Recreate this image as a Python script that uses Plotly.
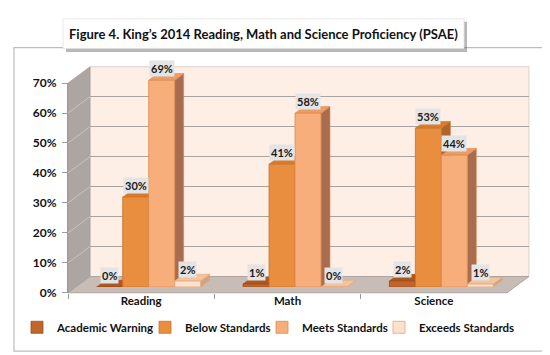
import plotly.graph_objects as go

# ---------------- data ----------------
categories = ["Reading", "Math", "Science"]
series_names = ["Academic Warning", "Below Standards", "Meets Standards", "Exceeds Standards"]
academic_warning = [0, 1, 2]
below_standards = [30, 41, 53]
meets_standards = [69, 58, 44]
exceeds_standards = [2, 0, 1]
y_tick_values = [0, 10, 20, 30, 40, 50, 60, 70]
y_tick_labels = ["0%", "10%", "20%", "30%", "40%", "50%", "60%", "70%"]
title_text = "Figure 4. King’s 2014 Reading, Math and Science Proficiency (PSAE)"

series_values = [academic_warning, below_standards, meets_standards, exceeds_standards]

# ---------------- styling ----------------
front_colors = ["#C0652B", "#E98E3E", "#F8AE7A", "#FCE1CD"]
top_colors = ["#AE5720", "#D97B2C", "#EE9C65", "#F2C3A0"]
side_colors = ["#8C4A22", "#B0652C", "#A96C4C", "#D6A27E"]
line_colors = ["#9C4E1E", "#C97328", "#DC8A50", "#E0A77E"]
FONT = "Lato"

W, H = 550, 355


def px(x):
    return x / W


def py(y):
    return 1 - y / H


# front plane (axis labels): left/right pixels, zero pixel, 70% pixel
F_L, F_R, F_Z, F_T = 60, 499, 289, 70
Y_MAX = 70
ppy = (F_Z - F_T) / Y_MAX            # px per percent
ppx = (F_R - F_L) / 3.0              # px per category
BAR_OFF = (7.5, -6)                  # bar plane offset
BACK_OFF = (22, -17)                 # back wall offset
DEPTH = (9, -7)                      # bar depth in px
Y2_MAX = 76

fig = go.Figure()

# invisible anchor traces for back and front planes
fig.add_trace(go.Scatter(x=categories, y=[None] * 3, xaxis="x", yaxis="y",
                         showlegend=False, hoverinfo="skip"))

# bars (bar plane)
for j, (name, vals) in enumerate(zip(series_names, series_values)):
    fig.add_trace(go.Bar(
        x=categories, y=vals, name=f"<b>{name}</b>", xaxis="x2", yaxis="y2",
        marker=dict(color=front_colors[j], line=dict(color=line_colors[j], width=0.8)),
        legend="legend" if j == 0 else f"legend{j + 1}",
        hoverinfo="skip",
    ))

fig.add_trace(go.Scatter(x=categories, y=[None] * 3, xaxis="x3", yaxis="y3",
                         showlegend=False, hoverinfo="skip"))

shapes = []
# outer frame
shapes.append(dict(type="rect", xref="paper", yref="paper", layer="below",
                   x0=px(6), x1=px(547), y0=py(350), y1=py(33),
                   line=dict(color="#BDBDBD", width=1.2), fillcolor="white"))
# title box shadow + box
shapes.append(dict(type="rect", xref="paper", yref="paper", layer="below",
                   x0=px(58), x1=px(459), y0=py(37.5), y1=py(6),
                   line=dict(width=0), fillcolor="rgba(0,0,0,0.28)"))
shapes.append(dict(type="rect", xref="paper", yref="paper", layer="below",
                   x0=px(55), x1=px(456), y0=py(34), y1=py(3),
                   line=dict(color="#E2E2E2", width=0.8), fillcolor="white"))

# back wall
bx0, bx1 = F_L + BACK_OFF[0], F_R + BACK_OFF[0]
bz, bt = F_Z + BACK_OFF[1], F_T + BACK_OFF[1]
shapes.append(dict(type="rect", xref="paper", yref="paper", layer="below",
                   x0=px(bx0), x1=px(bx1), y0=py(bz), y1=py(bt),
                   line=dict(color="#CFC8C4", width=0.8), fillcolor="#FDEEE6"))
# left wall
shapes.append(dict(type="path", xref="paper", yref="paper", layer="below",
                   path=f"M{px(F_L)},{py(F_Z)} L{px(F_L)},{py(F_T)} L{px(bx0)},{py(bt)} L{px(bx0)},{py(bz)} Z",
                   line=dict(color="#9F9792", width=0.6), fillcolor="#ADA5A1"))
# left wall gridlines
for v in y_tick_values[1:-1]:
    yf = F_Z - v * ppy
    yb = bz - v * ppy
    shapes.append(dict(type="line", xref="paper", yref="paper", layer="below",
                       x0=px(F_L), y0=py(yf), x1=px(bx0), y1=py(yb),
                       line=dict(color="#CBC4C0", width=1)))
# floor
shapes.append(dict(type="path", xref="paper", yref="paper", layer="below",
                   path=f"M{px(F_L)},{py(F_Z)} L{px(F_R)},{py(F_Z)} L{px(bx1)},{py(bz)} L{px(bx0)},{py(bz)} Z",
                   line=dict(color="#A39A95", width=0.8), fillcolor="#C7BCB6"))

# bar 3D faces (bar plane, computed from the data)
group_w = 0.71
bar_w = group_w / 4
dxu = DEPTH[0] / ppx
dyu = -DEPTH[1] / ppy
side_shapes, top_shapes = [], []
for j, vals in enumerate(series_values):
    for i, v in enumerate(vals):
        left = i - group_w / 2 + j * bar_w
        right = left + bar_w
        side_shapes.append(dict(
            type="path", xref="x2", yref="y2", layer="below",
            path=f"M{right},0 L{right + dxu},{dyu} L{right + dxu},{v + dyu} L{right},{v} Z",
            line=dict(color=line_colors[j], width=0.6), fillcolor=side_colors[j]))
        top_shapes.append(dict(
            type="path", xref="x2", yref="y2", layer="below",
            path=f"M{left},{v} L{right},{v} L{right + dxu},{v + dyu} L{left + dxu},{v + dyu} Z",
            line=dict(color=line_colors[j], width=0.6), fillcolor=top_colors[j]))
shapes += side_shapes + top_shapes

# data labels
annotations = []
for j, vals in enumerate(series_values):
    for i, v in enumerate(vals):
        center = i - group_w / 2 + (j + 0.5) * bar_w
        annotations.append(dict(
            x=center, y=v, xref="x2", yref="y2", text=f"<b>{v}%</b>",
            showarrow=False, yshift=12, xanchor="center", yanchor="middle",
            font=dict(family=FONT, size=11, color="#1A1A1A"),
            bgcolor="#E4E4E4", borderpad=1))

annotations.append(dict(
    x=px(255.5), y=py(18.5), xref="paper", yref="paper", showarrow=False,
    text=f"<b>{title_text}</b>", font=dict(family=FONT, size=13, color="#111111"),
    xanchor="center", yanchor="middle"))

cat_range = [-0.5, 2.5]
legend_text_starts = [58, 186, 303, 420]
legends = {}
for j, xs in enumerate(legend_text_starts):
    key = "legend" if j == 0 else f"legend{j + 1}"
    legends[key] = dict(
        x=px(xs - 49), y=py(325), xanchor="left", yanchor="middle",
        orientation="h", bgcolor="rgba(0,0,0,0)", borderwidth=0,
        font=dict(family=FONT, size=11.5, color="#111111"), itemclick=False,
        itemdoubleclick=False)

fig.update_layout(
    width=W, height=H,
    margin=dict(l=0, r=0, t=0, b=0),
    paper_bgcolor="white", plot_bgcolor="rgba(0,0,0,0)",
    barmode="group", bargap=1 - group_w, bargroupgap=0,
    font=dict(family=FONT, color="#111111"),
    showlegend=True,
    shapes=shapes, annotations=annotations,
    # back plane (grid)
    xaxis=dict(domain=[px(bx0), px(bx1)], range=cat_range, anchor="y",
               visible=False, type="category", categoryarray=categories),
    yaxis=dict(domain=[py(bz), py(bt)], range=[0, Y_MAX], anchor="x",
               showgrid=True, gridcolor="#A9A3A0", gridwidth=1.2, dtick=10,
               zeroline=False, showticklabels=False, ticks="", showline=False),
    # bar plane
    xaxis2=dict(domain=[px(F_L + BAR_OFF[0]), px(F_R + BAR_OFF[0])], range=cat_range,
                anchor="y2", visible=False, type="category", categoryarray=categories),
    yaxis2=dict(domain=[py(F_Z + BAR_OFF[1]), py(F_Z + BAR_OFF[1] - Y2_MAX * ppy)],
                range=[0, Y2_MAX], anchor="x2", visible=False),
    # front plane (labels)
    xaxis3=dict(domain=[px(F_L), px(F_R)], range=cat_range, anchor="y3",
                type="category", categoryarray=categories, tickson="boundaries",
                ticks="outside", ticklen=5, tickcolor="#9A9A9A", showline=False,
                showgrid=False, zeroline=False,
                tickfont=dict(family=FONT, size=11.5, color="#111111"),
                tickprefix="<b>", ticksuffix="</b>"),
    yaxis3=dict(domain=[py(F_Z), py(F_T)], range=[0, Y_MAX], anchor="x3",
                tickvals=y_tick_values, ticktext=[f"<b>{t}</b>" for t in y_tick_labels],
                ticks="outside", ticklen=5, tickcolor="#9A9A9A",
                showline=True, linecolor="#9A9A9A", linewidth=1,
                showgrid=False, zeroline=False, ticklabelstandoff=3,
                tickfont=dict(family=FONT, size=12, color="#111111")),
    **legends,
)

fig.write_html("out.html")
